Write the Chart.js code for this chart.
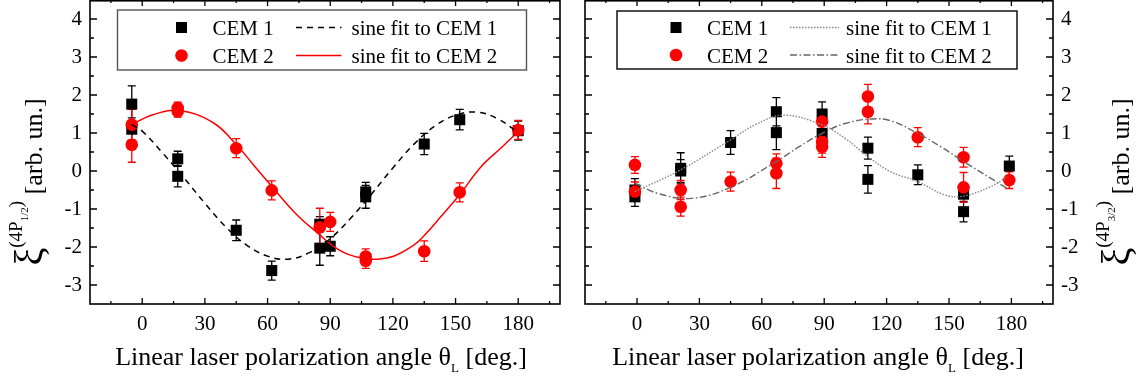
<!DOCTYPE html>
<html>
<head>
<meta charset="utf-8">
<script src="https://cdn.jsdelivr.net/npm/chart.js@4.4.1/dist/chart.umd.min.js"></script>
<style>
  body { margin: 0; background: #fff; }
  #wrap { position: relative; width: 1143px; height: 385px; }
  .panel { position: absolute; top: 0; height: 385px; }
</style>
</head>
<body>
<div id="wrap">
  <div class="panel" style="left:0;width:575px"><canvas id="left" width="575" height="385"></canvas></div>
  <div class="panel" style="left:575px;width:568px"><canvas id="right" width="568" height="385"></canvas></div>
</div>
<script>
const xTicks = [0, 30, 60, 90, 120, 150, 180];
const yTicks = [-3, -2, -1, 0, 1, 2, 3, 4];

// left panel: xi(4P1/2)
const l1Angle = [-5, -5, 17, 17, 45, 62, 85, 85, 90, 107, 107, 135, 152, 180];
const l1Value = [1.76, 1.1, 0.32, -0.14, -1.56, -2.62, -1.4, -2.03, -1.98, -0.55, -0.68, 0.71, 1.35, 1.06];
const l1Err   = [0.48, 0.3, 0.2, 0.28, 0.27, 0.25, 0.2, 0.45, 0.25, 0.25, 0.3, 0.28, 0.27, 0.25];
const l2Angle = [-5, -5, 17, 17, 45, 62, 85, 90, 107, 107, 135, 152, 180];
const l2Value = [1.22, 0.69, 1.66, 1.57, 0.6, -0.51, -1.48, -1.34, -2.25, -2.36, -2.11, -0.56, 1.08];
const l2Err   = [0.4, 0.46, 0.15, 0.15, 0.25, 0.25, 0.5, 0.25, 0.2, 0.2, 0.27, 0.25, 0.25];
const lFit1Angle = [-5, 0, 10, 20, 30, 40, 50, 60, 70, 80, 90, 100, 110, 120, 130, 140, 150, 160, 170, 180];
const lFit1Value = [1.22, 1.05, 0.46, -0.18, -0.85, -1.47, -1.95, -2.24, -2.32, -2.15, -1.78, -1.23, -0.59, 0.08, 0.7, 1.18, 1.47, 1.55, 1.38, 1.01];
const lFit2Angle = [-5, 5, 18, 34, 45, 53, 62, 74, 85, 90, 98, 107, 112, 120, 130, 135, 143, 152, 162, 172, 180];
const lFit2Value = [1.22, 1.48, 1.59, 1.27, 0.7, 0.18, -0.4, -1.15, -1.68, -1.92, -2.18, -2.31, -2.32, -2.25, -1.95, -1.7, -1.2, -0.62, 0.1, 0.62, 1.04];

// right panel: xi(4P3/2)
const r1Angle = [-1, -1, 21, 21, 45, 67, 67, 89, 89, 111, 111, 135, 157, 157, 179];
const r1Value = [-0.5, -0.68, 0.07, 0.0, 0.75, 1.56, 1.01, 1.5, 0.99, 0.6, -0.22, -0.1, -0.61, -1.07, 0.13];
const r1Err   = [0.3, 0.25, 0.41, 0.3, 0.31, 0.37, 0.45, 0.32, 0.38, 0.29, 0.36, 0.26, 0.2, 0.27, 0.26];
const r2Angle = [-1, -1, 21, 21, 45, 67, 67, 89, 89, 89, 111, 111, 135, 157, 157, 179];
const r2Value = [0.16, -0.54, -0.5, -0.94, -0.28, 0.2, -0.06, 1.3, 0.77, 0.64, 1.96, 1.56, 0.89, 0.36, -0.43, -0.24];
const r2Err   = [0.22, 0.25, 0.25, 0.25, 0.25, 0.25, 0.4, 0.25, 0.3, 0.28, 0.32, 0.32, 0.25, 0.26, 0.39, 0.22];
const rFit1Angle = [-1, 21, 45, 58, 71, 89, 100, 111, 122, 135, 148, 157, 170, 178];
const rFit1Value = [-0.54, 0.03, 0.82, 1.25, 1.47, 1.21, 0.86, 0.38, -0.02, -0.28, -0.63, -0.66, -0.41, -0.15];
const rFit2Angle = [-1, 10, 26, 45, 67, 78, 89, 100, 113, 122, 135, 146, 157, 170, 178];
const rFit2Value = [-0.32, -0.59, -0.72, -0.43, 0.25, 0.64, 0.99, 1.25, 1.37, 1.32, 0.99, 0.64, 0.25, -0.19, -0.46];

const SERIF = "'Liberation Serif', 'Times New Roman', serif";
Chart.defaults.font.family = SERIF;
Chart.defaults.color = '#000';

function pts(xs, ys) { return xs.map((x, i) => ({ x: x, y: ys[i] })); }

const errorBars = {
  id: 'errorBars',
  beforeDatasetsDraw(chart) {
    const ctx = chart.ctx, xs = chart.scales.x, ys = chart.scales.y;
    chart.data.datasets.forEach(ds => {
      if (!ds.errors) return;
      ctx.save();
      ctx.strokeStyle = ds.borderColor;
      ctx.lineWidth = 1.3;
      ctx.beginPath();
      ds.data.forEach((p, i) => {
        const px = xs.getPixelForValue(p.x);
        const t = ys.getPixelForValue(p.y + ds.errors[i]);
        const b = ys.getPixelForValue(p.y - ds.errors[i]);
        ctx.moveTo(px, t); ctx.lineTo(px, b);
        ctx.moveTo(px - 4, t); ctx.lineTo(px + 4, t);
        ctx.moveTo(px - 4, b); ctx.lineTo(px + 4, b);
      });
      ctx.stroke();
      ctx.restore();
    });
  }
};

const frame = {
  id: 'frame',
  afterDraw(chart) {
    const ctx = chart.ctx, a = chart.chartArea, xs = chart.scales.x, ys = chart.scales.y;
    ctx.save();
    ctx.strokeStyle = '#000';
    ctx.lineWidth = 1.6;
    ctx.strokeRect(a.left, a.top + 0.8, a.right - a.left, a.bottom - a.top - 0.8);
    ctx.lineWidth = 1.3;
    ctx.beginPath();
    for (let v = -15; v <= 195; v += 15) {
      const px = xs.getPixelForValue(v), len = xTicks.includes(v) ? 6 : 3;
      ctx.moveTo(px, a.bottom); ctx.lineTo(px, a.bottom - len);
      ctx.moveTo(px, a.top); ctx.lineTo(px, a.top + len);
    }
    for (let v = -3; v <= 4; v += 0.5) {
      const py = ys.getPixelForValue(v), len = yTicks.includes(v) ? 7 : 4;
      ctx.moveTo(a.left, py); ctx.lineTo(a.left + len, py);
      ctx.moveTo(a.right, py); ctx.lineTo(a.right - len, py);
    }
    ctx.stroke();
    ctx.restore();
  }
};

function drawParts(ctx, parts) {
  let x = 0;
  parts.forEach(p => {
    ctx.font = p.size + 'px ' + SERIF;
    ctx.fillText(p.t, x, -p.rise);
    x += ctx.measureText(p.t).width;
  });
}
function partsWidth(ctx, parts) {
  return parts.reduce((w, p) => { ctx.font = p.size + 'px ' + SERIF; return w + ctx.measureText(p.t).width; }, 0);
}

const titles = {
  id: 'titles',
  afterDraw(chart, args, opts) {
    const ctx = chart.ctx, a = chart.chartArea;
    ctx.save();
    ctx.fillStyle = '#000';
    ctx.textBaseline = 'alphabetic';
    ctx.textAlign = 'left';
    const xParts = [
      { t: 'Linear laser polarization angle θ', size: 26, rise: 0 },
      { t: 'L', size: 13, rise: -7 },
      { t: ' [deg.]', size: 26, rise: 0 }
    ];
    const xw = partsWidth(ctx, xParts);
    ctx.save();
    ctx.translate((a.left + a.right) / 2 + opts.xShift - xw / 2, 365);
    drawParts(ctx, xParts);
    ctx.restore();

    const yParts = [
      { t: 'ξ', size: 40, rise: 0 },
      { t: '(4P', size: 19, rise: 20 },
      { t: opts.sub, size: 11, rise: 14 },
      { t: ')', size: 19, rise: 20 },
      { t: ' [arb. un.]', size: 26, rise: 0 }
    ];
    const yw = partsWidth(ctx, yParts);
    ctx.translate(opts.yBase, 182 + yw / 2);
    ctx.rotate(-Math.PI / 2);
    drawParts(ctx, yParts);
    ctx.restore();
  }
};

const boxLegend = {
  id: 'boxLegend',
  afterDraw(chart, args, o) {
    const ctx = chart.ctx, ds = chart.data.datasets;
    const bx = chart.chartArea.left + o.x;
    ctx.save();
    ctx.fillStyle = '#fff';
    ctx.fillRect(bx, o.y, o.w, o.h);
    ctx.strokeStyle = o.border;
    ctx.lineWidth = 1.4;
    ctx.strokeRect(bx, o.y, o.w, o.h);
    ctx.font = '21px ' + SERIF;
    ctx.textBaseline = 'alphabetic';
    [[0, 2], [1, 3]].forEach((pair, r) => {
      const cy = o.y + o.row0 + r * o.rowGap;
      const p = ds[pair[0]], f = ds[pair[1]];
      ctx.fillStyle = p.backgroundColor;
      if (p.pointStyle === 'rect') {
        ctx.fillRect(bx + o.sym - 5.5, cy - 5.5, 11, 11);
      } else {
        ctx.beginPath(); ctx.arc(bx + o.sym, cy, 6.3, 0, Math.PI * 2); ctx.fill();
      }
      ctx.fillStyle = '#000';
      ctx.fillText(p.label, bx + o.text, cy + 7.5);
      ctx.fillText(f.label, bx + o.fitText, cy + 7.5);
      ctx.strokeStyle = f.borderColor;
      ctx.lineWidth = f.borderWidth;
      ctx.setLineDash(f.borderDash || []);
      ctx.beginPath(); ctx.moveTo(bx + o.line1, cy); ctx.lineTo(bx + o.line2, cy); ctx.stroke();
      ctx.setLineDash([]);
    });
    ctx.restore();
  }
};

function makeChart(id, side, sets, legendOpts, titleOpts) {
  const right = side === 'right';
  return new Chart(document.getElementById(id), {
    type: 'scatter',
    data: {
      datasets: [
        { label: 'CEM 1', data: pts(sets.a1, sets.v1), errors: sets.e1, pointStyle: 'rect', pointRadius: 7.8,
          backgroundColor: '#000', borderColor: '#000', borderWidth: 0, order: 2 },
        { label: 'CEM 2', data: pts(sets.a2, sets.v2), errors: sets.e2, pointStyle: 'circle', pointRadius: 6.3,
          backgroundColor: '#ff0000', borderColor: '#ff0000', borderWidth: 0, order: 1 },
        Object.assign({ label: 'sine fit to CEM 1', data: pts(sets.fa1, sets.fv1), showLine: true, pointRadius: 0,
          tension: 0.4, order: 0 }, sets.s1),
        Object.assign({ label: 'sine fit to CEM 2', data: pts(sets.fa2, sets.fv2), showLine: true, pointRadius: 0,
          tension: 0.4, order: 0 }, sets.s2)
      ]
    },
    options: {
      responsive: false,
      animation: false,
      events: [],
      layout: {
        autoPadding: false,
        padding: right ? { left: 10, right: 0, top: 0, bottom: 0 } : { left: 0, right: 15, top: 0, bottom: 0 }
      },
      plugins: { legend: { display: false }, tooltip: { enabled: false }, boxLegend: legendOpts, titles: titleOpts },
      scales: {
        x: {
          type: 'linear', min: -25, max: 200,
          afterBuildTicks: s => { s.ticks = xTicks.map(v => ({ value: v })); },
          afterFit: s => { s.height = 81; s.paddingLeft = 0; s.paddingRight = 0; },
          grid: { display: false, drawTicks: false },
          border: { display: false },
          ticks: { padding: 8, font: { size: 21 }, maxRotation: 0 }
        },
        y: {
          type: 'linear', min: -3.5, max: 4.5, position: side,
          afterBuildTicks: s => { s.ticks = yTicks.map(v => ({ value: v })); },
          afterFit: s => { s.width = 90; s.paddingTop = 0; s.paddingBottom = 0; },
          grid: { display: false, drawTicks: false },
          border: { display: false },
          ticks: { padding: 8, font: { size: 21 } }
        }
      }
    },
    plugins: [errorBars, frame, boxLegend, titles]
  });
}

makeChart('left', 'left', {
  a1: l1Angle, v1: l1Value, e1: l1Err, a2: l2Angle, v2: l2Value, e2: l2Err,
  fa1: lFit1Angle, fv1: lFit1Value, fa2: lFit2Angle, fv2: lFit2Value,
  s1: { borderColor: '#000', borderWidth: 1.5, borderDash: [6, 5] },
  s2: { borderColor: '#ff0000', borderWidth: 1.5 }
}, { x: 27.5, y: 10, w: 409, h: 60, row0: 17.5, rowGap: 28, sym: 64, text: 95, line1: 178.5, line2: 224, fitText: 234, border: '#555' },
   { sub: '1/2', yBase: 42, xShift: -4 });

makeChart('right', 'right', {
  a1: r1Angle, v1: r1Value, e1: r1Err, a2: r2Angle, v2: r2Value, e2: r2Err,
  fa1: rFit1Angle, fv1: rFit1Value, fa2: rFit2Angle, fv2: rFit2Value,
  s1: { borderColor: '#888', borderWidth: 1.4, borderDash: [1.5, 1.5] },
  s2: { borderColor: '#666', borderWidth: 1.4, borderDash: [7, 2.5, 1.5, 2.5] }
}, { x: 32, y: 11, w: 400, h: 58, row0: 16.5, rowGap: 27.5, sym: 59, text: 90, line1: 173, line2: 222, fitText: 229, border: '#000' },
   { sub: '3/2', yBase: 1129 - 575, xShift: -1 });
</script>
</body>
</html>
